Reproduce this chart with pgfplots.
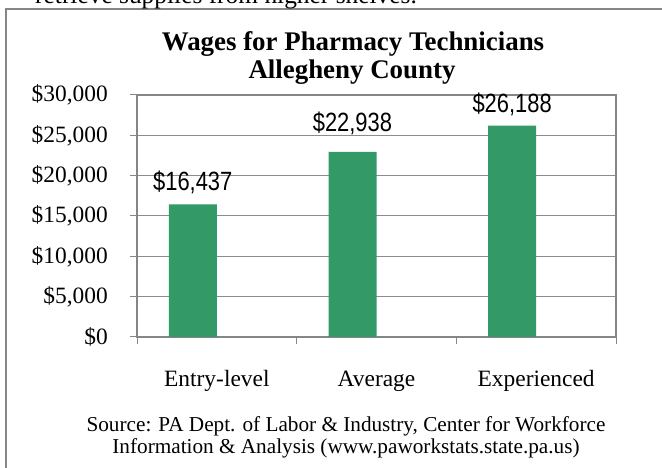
\documentclass[border=0pt]{standalone}
\usepackage{pgfplots}
\pgfplotsset{compat=1.18}
\usepackage{fontspec}
\setmainfont{Liberation Serif}
\newfontfamily\arialfont{Liberation Sans}
\definecolor{bargreen}{RGB}{51,153,102}
\definecolor{framegray}{RGB}{134,134,134}
\definecolor{gridgray}{RGB}{140,140,140}
\begin{document}
\begin{tikzpicture}[x=1bp,y=1bp]
\clip (0,0) rectangle (662,468);
\draw[framegray, line width=1.2bp] (6,0) -- (6,459) -- (662,459);
\node[anchor=base west, inner sep=0pt, font=\fontsize{25.5}{25.5}\selectfont] at (35,464) {retrieve supplies from higher shelves.};
\node[anchor=base, inner sep=0pt, font=\bfseries\fontsize{27}{28}\selectfont] at (353,417) {Wages for Pharmacy Technicians};
\node[anchor=base, inner sep=0pt, font=\bfseries\fontsize{27}{28}\selectfont] at (352,389) {Allegheny County};
\node[anchor=base, inner sep=0pt, font=\fontsize{21.3}{21.3}\selectfont] at (346,36) {Source: PA Dept. of Labor \& Industry, Center for Workforce};
\node[anchor=base, inner sep=0pt, font=\fontsize{21.3}{21.3}\selectfont] at (346,14) {Information \& Analysis (www.paworkstats.state.pa.us)};
\begin{axis}[
  at={(137bp,131bp)}, anchor=south west,
  scale only axis, width=479bp, height=242bp,
  xmin=0, xmax=3, ymin=0, ymax=30000,
  scaled y ticks=false,
  axis line style={framegray, line width=2bp},
  ymajorgrids, grid style={gridgray, line width=1bp},
  ytick={0,5000,10000,15000,20000,25000,30000},
  yticklabels={{\$0},{\$5,000},{\$10,000},{\$15,000},{\$20,000},{\$25,000},{\$30,000}},
  xtick={0,1,2,3}, xticklabels={},
  extra x ticks={0.5,1.5,2.5},
  extra x tick labels={Entry-level,Average,Experienced},
  extra x tick style={tick style={draw=none}, xticklabel style={anchor=base, yshift=-43bp}},
  xtick pos=bottom, ytick pos=left,
  tick align=outside, major tick length=7bp,
  tick style={framegray, line width=1bp},
  yticklabel style={font=\fontsize{23.5}{23.5}\selectfont, anchor=east, inner sep=0pt, xshift=-22bp},
  xticklabel style={font=\fontsize{23.5}{23.5}\selectfont, inner sep=0pt},
  clip=false,
]
\addplot[ybar, fill=bargreen, draw=none, bar width=48bp, bar shift=-24bp]
  coordinates {(0.5,16437) (1.5,22938) (2.5,26188)};
\node[anchor=base, inner sep=0pt, xscale=0.83, font=\arialfont\fontsize{26.5}{26.5}\selectfont] at (axis cs:0.5,16437) [xshift=-29bp, yshift=14bp] {\$16,437};
\node[anchor=base, inner sep=0pt, xscale=0.83, font=\arialfont\fontsize{26.5}{26.5}\selectfont] at (axis cs:1.5,22938) [xshift=-29bp, yshift=20bp] {\$22,938};
\node[anchor=base, inner sep=0pt, xscale=0.83, font=\arialfont\fontsize{26.5}{26.5}\selectfont] at (axis cs:2.5,26188) [xshift=-29bp, yshift=13bp] {\$26,188};
\end{axis}
\end{tikzpicture}
\end{document}
